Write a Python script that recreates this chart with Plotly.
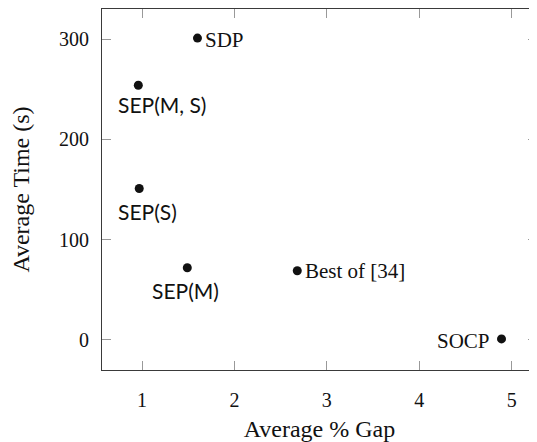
import plotly.graph_objects as go

methods = ["SDP", "SEP(M, S)", "SEP(S)", "SEP(M)", "Best of [34]", "SOCP"]
avg_gap = [1.60, 0.96, 0.97, 1.49, 2.68, 4.89]
avg_time = [301, 254, 151, 72, 69, 1]

x_ticks = [1, 2, 3, 4, 5]
y_ticks = [0, 100, 200, 300]

SERIF = "Liberation Serif, Times New Roman, serif"
SANS = "Lato, DejaVu Sans, sans-serif"
INK = "#111111"

# label placement styles (font, anchor, pixel offsets)
label_style = {
    "SDP": dict(family=SERIF, size=21, xanchor="left", yanchor="middle", xshift=6, yshift=-2),
    "SEP(M, S)": dict(family=SANS, size=21, xanchor="center", yanchor="top", xshift=24, yshift=-5),
    "SEP(S)": dict(family=SANS, size=21, xanchor="center", yanchor="top", xshift=8, yshift=-8),
    "SEP(M)": dict(family=SANS, size=21, xanchor="center", yanchor="top", xshift=-2, yshift=-8),
    "Best of [34]": dict(family=SERIF, size=21, xanchor="left", yanchor="middle", xshift=6, yshift=0),
    "SOCP": dict(family=SERIF, size=21, xanchor="right", yanchor="middle", xshift=-10, yshift=-2),
}

fig = go.Figure()
fig.add_trace(go.Scatter(
    x=avg_gap, y=avg_time, mode="markers",
    marker=dict(size=9, color=INK, line=dict(width=0)),
    showlegend=False, hoverinfo="skip",
))

for name, gx, ty in zip(methods, avg_gap, avg_time):
    s = label_style[name]
    fig.add_annotation(
        x=gx, y=ty, text=name, showarrow=False,
        xanchor=s["xanchor"], yanchor=s["yanchor"],
        xshift=s["xshift"], yshift=s["yshift"],
        font=dict(family=s["family"], size=s["size"], color=INK),
    )

axis_common = dict(
    showgrid=False, zeroline=False,
    showline=True, linecolor="#3a3a3a", linewidth=1.2,
    mirror="ticks", ticks="inside", ticklen=9, tickcolor="#999999", tickwidth=1,
    tickfont=dict(family=SERIF, size=20, color=INK),
)

fig.update_xaxes(
    range=[0.567, 5.274], tickvals=x_ticks, ticktext=[str(v) for v in x_ticks],
    ticklabelstandoff=12,
    title=dict(text="Average % Gap", font=dict(family=SERIF, size=24, color=INK), standoff=16),
    **axis_common,
)
fig.update_yaxes(
    range=[-30, 330], tickvals=y_ticks, ticktext=[str(v) for v in y_ticks],
    ticklabelstandoff=8,
    title=dict(text="Average Time (s)", font=dict(family=SERIF, size=24, color=INK), standoff=24),
    **axis_common,
)

fig.update_layout(
    width=529, height=434,
    margin=dict(l=94, r=0, t=1, b=72, autoexpand=False),
    plot_bgcolor="white", paper_bgcolor="white",
)

fig.write_html("out.html")
